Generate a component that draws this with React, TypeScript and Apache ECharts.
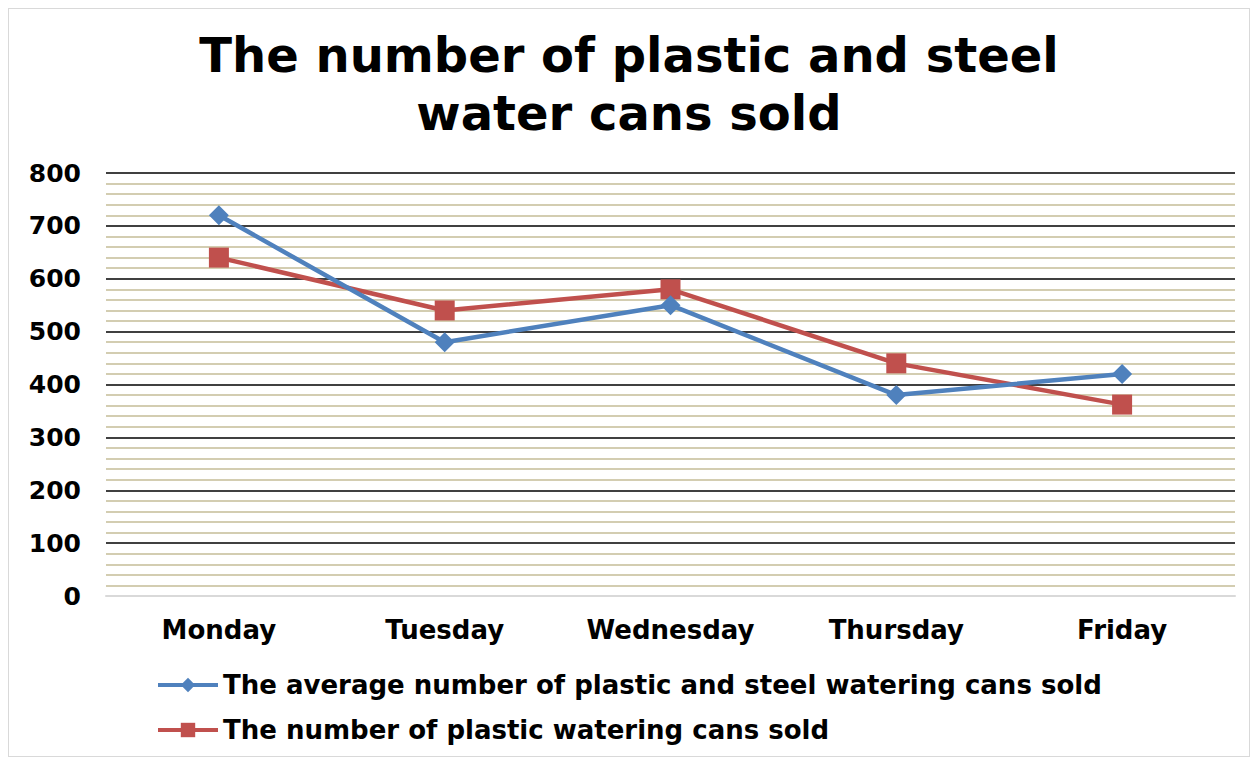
import React, { useEffect, useRef } from "react";
import * as echarts from "echarts";

const titleText = "The number of plastic and steel\nwater cans sold";
const categories = ["Monday", "Tuesday", "Wednesday", "Thursday", "Friday"];
const averageName = "The average number of plastic and steel watering cans sold";
const averageValues = [720, 480, 550, 380, 420];
const plasticName = "The number of plastic watering cans sold";
const plasticValues = [640, 540, 580, 440, 362];

const FONT = "'DejaVu Sans', Verdana, sans-serif";

const legendBase = {
  orient: "horizontal",
  left: 142,
  itemWidth: 60,
  itemHeight: 18,
  itemGap: 5,
  lineStyle: { width: 4 },
  textStyle: {
    fontFamily: FONT,
    fontWeight: "bold",
    fontSize: 26,
    lineHeight: 26,
    color: "#000000",
  },
};

export default function App() {
  const ref = useRef<HTMLDivElement>(null);
  useEffect(() => {
    if (!ref.current) return;
    const chart = echarts.init(ref.current, undefined, { renderer: "svg" });
    chart.setOption({
      animation: false,
      backgroundColor: "#ffffff",
      title: {
        text: titleText,
        left: "center",
        top: 12,
        textStyle: {
          fontFamily: FONT,
          fontWeight: "bold",
          fontSize: 48,
          lineHeight: 58,
          color: "#000000",
        },
      },
      legend: [
        { ...legendBase, top: 658, data: [averageName] },
        { ...legendBase, top: 703, data: [plasticName] },
      ],
      grid: { left: 97, right: 14, top: 164, height: 423, containLabel: false },
      xAxis: {
        type: "category",
        data: categories,
        boundaryGap: true,
        axisLine: { show: true, lineStyle: { color: "#d9d9d9", width: 2 } },
        axisTick: { show: false },
        axisLabel: {
          margin: 21,
          fontFamily: FONT,
          fontWeight: "bold",
          fontSize: 26,
          color: "#000000",
        },
      },
      yAxis: {
        type: "value",
        min: 0,
        max: 800,
        interval: 100,
        axisLine: { show: false },
        axisTick: { show: false },
        axisLabel: {
          margin: 25,
          fontFamily: FONT,
          fontWeight: "bold",
          fontSize: 25,
          color: "#000000",
        },
        splitLine: { show: true, showMinLine: false, lineStyle: { color: "#000000", width: 1.5 } },
        minorTick: { show: false, splitNumber: 5 },
        minorSplitLine: { show: true, lineStyle: { color: "#c4bd97", width: 1.5 } },
      },
      series: [
        {
          name: averageName,
          type: "line",
          data: averageValues,
          symbol: "diamond",
          symbolSize: 20,
          lineStyle: { color: "#4f81bd", width: 4.5 },
          itemStyle: { color: "#4f81bd" },
          z: 3,
        },
        {
          name: plasticName,
          type: "line",
          data: plasticValues,
          symbol: "rect",
          symbolSize: 20,
          lineStyle: { color: "#c0504d", width: 4.5 },
          itemStyle: { color: "#c0504d" },
          z: 2,
        },
      ],
    });
    return () => chart.dispose();
  }, []);
  return (
    <div style={{ width: 1240, height: 747, border: "1px solid #d9d9d9" }}>
      <div ref={ref} style={{ width: 1240, height: 747 }} />
    </div>
  );
}
